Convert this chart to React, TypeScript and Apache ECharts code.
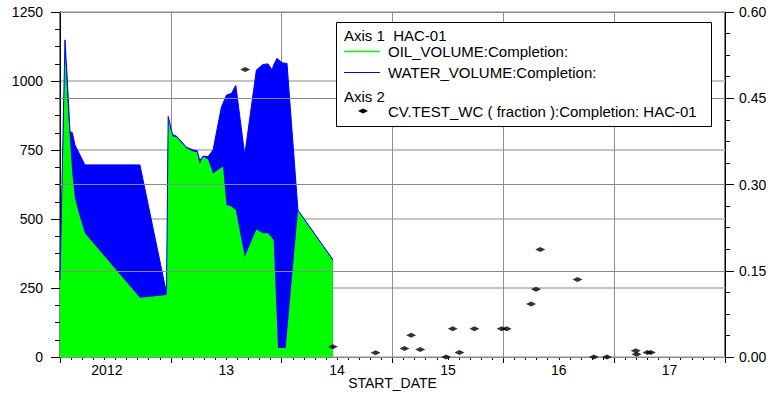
import React, { useEffect, useRef } from 'react';
import * as echarts from 'echarts';

// START_DATE as decimal years
const startDates = [
  2011.5, 2011.545, 2011.566, 2011.59, 2011.611, 2011.635, 2011.68, 2011.725,
  2012.221, 2012.461, 2012.476, 2012.515, 2012.551, 2012.641, 2012.701, 2012.737,
  2012.761, 2012.791, 2012.836, 2012.881, 2012.957, 2012.971, 2013.002, 2013.047,
  2013.086, 2013.167, 2013.272, 2013.332, 2013.377, 2013.414, 2013.428, 2013.458,
  2013.467, 2013.506, 2013.536, 2013.548, 2013.647, 2013.962,
];
const oilVolume = [
  280, 1124, 943, 786, 666, 575, 507, 448,
  215, 225, 870, 800, 796, 756, 745, 742,
  699, 726, 716, 665, 687, 690, 551, 545,
  533, 363, 462, 448, 448, 430, 424, 124,
  33, 33, 33, 85, 530, 350,
];
const waterVolume = [
  0, 25, 60, 30, 147, 193, 225, 248,
  481, 7, 2, 6, 4, 4, 5, 6,
  13, 2, 10, 85, 220, 229, 398, 410,
  451, 369, 578, 612, 614, 610, 634, 958,
  1045, 1033, 1031, 979, 2, 3,
];

const testDates = [
  2013.171, 2013.962, 2014.347, 2014.608, 2014.668, 2014.75, 2014.984, 2015.043,
  2015.104, 2015.239, 2015.485, 2015.53, 2015.75, 2015.795, 2015.833, 2016.169,
  2016.317, 2016.435, 2016.695, 2016.702, 2016.8, 2016.831,
];
const testWaterCut = [
  0.5, 0.018, 0.0075, 0.015, 0.038, 0.013, 0.0, 0.049,
  0.008, 0.049, 0.049, 0.049, 0.092, 0.118, 0.187, 0.135,
  0.0, 0.0, 0.011, 0.005, 0.008, 0.008,
];

const xMin = 2011.5;
const xMax = 2017.5;
const leftMax = 1250;
const leftStep = 250;
const rightMax = 0.6;
const rightStep = 0.15;

const FONT = "'Liberation Sans', Arial, Helvetica, sans-serif";

function yearLabel(v: number): string {
  if (Math.abs(v - Math.round(v)) > 1e-6) return '';
  const y = Math.round(v);
  if (y === 2012) return '{a|2012}';
  return String(y % 100);
}

export default function App() {
  const ref = useRef<HTMLDivElement>(null);
  useEffect(() => {
    document.body.style.margin = '0';
    const chart = echarts.init(ref.current!, null, { renderer: 'svg' });
    const axisText = { color: '#000', fontSize: 14, fontFamily: FONT };
    // stacked top of the water band = oil + water
    const totalData = startDates.map((d, i) => [d, oilVolume[i] + waterVolume[i]]);
    const oilData = startDates.map((d, i) => [d, oilVolume[i]]);
    const LZ = 100;
    const txt = (text: string, x: number, y: number) => ({
      type: 'text', x, y, z: LZ + 1,
      style: { text, fontSize: 15, fontFamily: FONT, fill: '#000', verticalAlign: 'middle' },
    });
    const option: any = {
      animation: false,
      grid: {
        left: 60, right: 47, top: 12, bottom: 36,
        containLabel: false, outerBoundsMode: 'none',
        show: true, borderColor: '#000', borderWidth: 1, backgroundColor: 'transparent',
      },
      xAxis: [
        {
          type: 'value', min: xMin, max: xMax, interval: 0.5, position: 'bottom',
          name: 'START_DATE', nameLocation: 'middle', nameGap: 19, nameMoveOverlap: false,
          nameTextStyle: { ...axisText },
          axisLine: { show: true, lineStyle: { color: '#000', width: 1 } },
          axisTick: { show: false },
          axisLabel: {
            ...axisText, margin: 6, formatter: yearLabel,
            rich: { a: { ...axisText, padding: [0, 17, 0, 0] } },
          },
          splitLine: { show: true, lineStyle: { color: ['#909090', 'rgba(0,0,0,0)'], width: 1 } },
        },
        {
          type: 'value', min: 0, max: xMax - xMin, interval: 1, position: 'bottom',
          axisLine: { show: true, lineStyle: { color: '#000', width: 1 } },
          axisTick: { show: true, length: 6, lineStyle: { color: '#000' } },
          minorTick: { show: true, splitNumber: 10, length: 3, lineStyle: { color: '#000' } },
          axisLabel: { show: false },
          splitLine: { show: false },
        },
      ],
      yAxis: [
        {
          type: 'value', min: 0, max: leftMax, interval: leftStep, position: 'left',
          axisLine: { show: true, lineStyle: { color: '#000', width: 1 } },
          axisTick: { show: true, length: 9, lineStyle: { color: '#000' } },
          minorTick: { show: true, splitNumber: 4, length: 5, lineStyle: { color: '#000' } },
          axisLabel: { ...axisText, margin: 17, formatter: (v: number) => String(Math.round(v)) },
          splitLine: { show: true, lineStyle: { color: '#c4c4c4', width: 2 } },
        },
        {
          type: 'value', min: 0, max: rightMax, interval: rightStep, position: 'right', z: 3,
          axisLine: { show: true, lineStyle: { color: '#000', width: 1 } },
          axisTick: { show: true, length: 9, lineStyle: { color: '#000' } },
          minorTick: { show: true, splitNumber: 4, length: 5, lineStyle: { color: '#000' } },
          axisLabel: { ...axisText, margin: 14, formatter: (v: number) => v.toFixed(2) },
          splitLine: { show: true, lineStyle: { color: '#8a8a8a', width: 1 } },
        },
      ],
      series: [
        {
          name: 'WATER_VOLUME:Completion:', type: 'line',
          xAxisIndex: 0, yAxisIndex: 0, z: 2,
          data: totalData,
          symbol: 'none', showSymbol: false,
          lineStyle: { width: 1, color: '#0000ff' },
          areaStyle: { color: '#0000ff', opacity: 1 },
        },
        {
          name: 'OIL_VOLUME:Completion:', type: 'line',
          xAxisIndex: 0, yAxisIndex: 0, z: 2,
          data: oilData,
          symbol: 'none', showSymbol: false,
          lineStyle: { width: 0, color: '#00ff00' },
          areaStyle: { color: '#00ff00', opacity: 1 },
        },
        {
          name: 'CV.TEST_WC ( fraction ):Completion: HAC-01', type: 'scatter',
          xAxisIndex: 0, yAxisIndex: 1, z: 5,
          data: testDates.map((d, i) => [d, testWaterCut[i]]),
          symbol: 'diamond', symbolSize: [10, 5],
          itemStyle: { color: '#000' },
        },
      ],
      graphic: [
        { type: 'rect', z: LZ, shape: { x: 336.5, y: 22.5, width: 375, height: 104 }, style: { fill: '#fff', stroke: '#000', lineWidth: 1 } },
        txt('Axis 1\u00a0\u00a0HAC-01', 344, 35),
        { type: 'line', z: LZ + 1, shape: { x1: 344, y1: 51.5, x2: 380, y2: 51.5 }, style: { stroke: '#00ff00', lineWidth: 1.5 } },
        txt('OIL_VOLUME:Completion:', 388, 51),
        { type: 'line', z: LZ + 1, shape: { x1: 344, y1: 72.5, x2: 380, y2: 72.5 }, style: { stroke: '#0000ff', lineWidth: 1 } },
        txt('WATER_VOLUME:Completion:', 388, 72),
        txt('Axis 2', 344, 96),
        { type: 'polygon', z: LZ + 1, shape: { points: [[358, 111], [363, 108.5], [368, 111], [363, 113.5]] }, style: { fill: '#000' } },
        txt('CV.TEST_WC ( fraction ):Completion: HAC-01', 388, 111),
      ],
    };
    chart.setOption(option);
    return () => chart.dispose();
  }, []);
  return <div ref={ref} style={{ position: 'absolute', left: 0, top: 0, width: 772, height: 393 }} />;
}
